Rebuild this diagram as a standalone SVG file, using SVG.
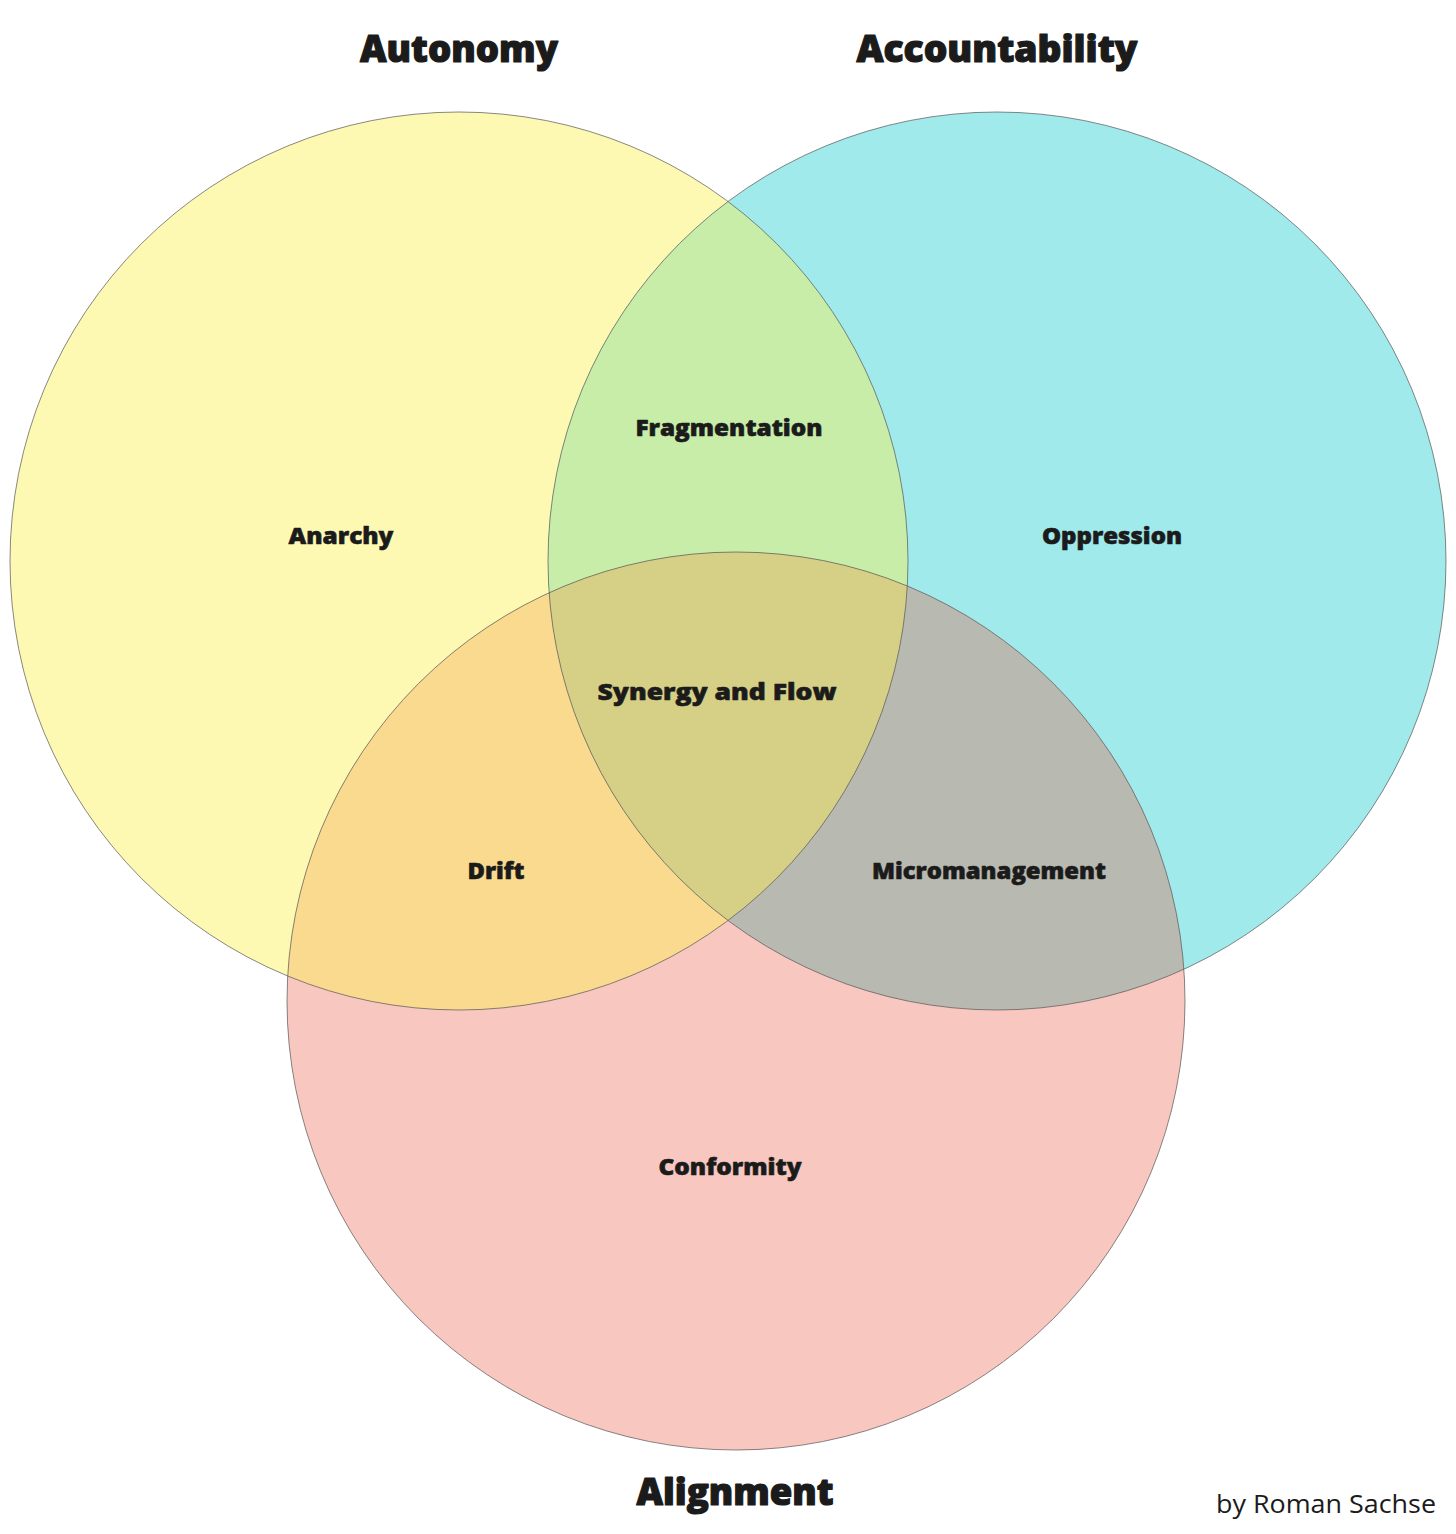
<svg xmlns="http://www.w3.org/2000/svg" width="1456" height="1534" viewBox="0 0 1456 1534">
<style>
.title{font-family:"Open Sans","Noto Sans",sans-serif;font-weight:800;font-size:37px;fill:#1b1b1b;stroke:#1b1b1b;stroke-width:1.2;stroke-linejoin:round;text-anchor:middle}
.lbl{font-family:"Open Sans","Noto Sans",sans-serif;font-weight:800;font-size:23px;fill:#1b1b1b;stroke:#1b1b1b;stroke-width:0.6;stroke-linejoin:round;text-anchor:middle}
.credit{font-family:"Open Sans","Noto Sans",sans-serif;font-size:26px;fill:#1b1b1b}
.edge{fill:none;stroke:#555;stroke-width:0.7}
</style>
<defs>
<clipPath id="clipA"><circle cx="459" cy="561" r="449"/></clipPath>
<clipPath id="clipB"><circle cx="997" cy="561" r="449"/></clipPath>
</defs>
<rect width="1456" height="1534" fill="#fff"/>
<g id="regions">
<circle id="autonomy-circle" cx="459" cy="561" r="449" fill="#FDF9B3"/>
<circle id="accountability-circle" cx="997" cy="561" r="449" fill="#A0EAEC"/>
<circle id="alignment-circle" cx="736" cy="1001" r="449" fill="#F8C7BF"/>
<circle cx="997" cy="561" r="449" fill="#C7EDA8" clip-path="url(#clipA)"/>
<circle cx="736" cy="1001" r="449" fill="#F9DA8E" clip-path="url(#clipA)"/>
<circle cx="736" cy="1001" r="449" fill="#B8B9B0" clip-path="url(#clipB)"/>
<g clip-path="url(#clipA)"><circle cx="736" cy="1001" r="449" fill="#D6D086" clip-path="url(#clipB)"/></g>
<circle class="edge" cx="459" cy="561" r="449"/>
<circle class="edge" cx="997" cy="561" r="449"/>
<circle class="edge" cx="736" cy="1001" r="449"/>
</g>
<g id="titles">
<text class="title" x="459" y="62" textLength="198" lengthAdjust="spacingAndGlyphs">Autonomy</text>
<text class="title" x="997" y="62" textLength="281" lengthAdjust="spacingAndGlyphs">Accountability</text>
<text class="title" x="735" y="1505" textLength="197" lengthAdjust="spacingAndGlyphs">Alignment</text>
</g>
<g id="labels">
<text class="lbl" x="729" y="436" textLength="187" lengthAdjust="spacingAndGlyphs">Fragmentation</text>
<text class="lbl" x="341" y="544" textLength="105" lengthAdjust="spacingAndGlyphs">Anarchy</text>
<text class="lbl" x="1112" y="544" textLength="140" lengthAdjust="spacingAndGlyphs">Oppression</text>
<text class="lbl" x="717" y="700" textLength="239" lengthAdjust="spacingAndGlyphs">Synergy and Flow</text>
<text class="lbl" x="496" y="879" textLength="57" lengthAdjust="spacingAndGlyphs">Drift</text>
<text class="lbl" x="989" y="879" textLength="234" lengthAdjust="spacingAndGlyphs">Micromanagement</text>
<text class="lbl" x="730" y="1175" textLength="143" lengthAdjust="spacingAndGlyphs">Conformity</text>
</g>
<text class="credit" x="1436" y="1513" text-anchor="end" textLength="220" lengthAdjust="spacingAndGlyphs">by Roman Sachse</text>
</svg>
